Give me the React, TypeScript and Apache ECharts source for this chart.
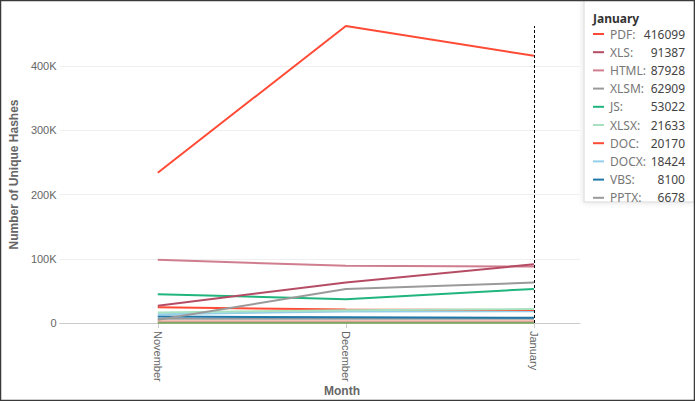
import React, { useEffect, useRef } from "react";
import * as echarts from "echarts";

const months = ["November", "December", "January"];
const yTicks = [0, 100000, 200000, 300000, 400000];

const pdf = [234000, 462500, 416099];
const xls = [27000, 63000, 91387];
const html = [98400, 89000, 87928];
const xlsm = [5000, 53000, 62909];
const js = [44800, 37000, 53022];
const xlsx = [16500, 20000, 21633];
const doc = [24500, 21000, 20170];
const docx = [13500, 18000, 18424];
const vbs = [10000, 9000, 8100];
const pptx = [6700, 6500, 6678];
const other1 = [2600, 2600, 2600];
const other2 = [500, 500, 500];

const tooltipNames = ["PDF", "XLS", "HTML", "XLSM", "JS", "XLSX", "DOC", "DOCX", "VBS", "PPTX"];
const tooltipData = [pdf, xls, html, xlsm, js, xlsx, doc, docx, vbs, pptx];
const tooltipColors = ["#ff4b36", "#b54c64", "#cf7d8f", "#9a9a9a", "#1fb57d", "#a6e2c0", "#ff4b36", "#93cfea", "#1f78a8", "#9a9a9a"];

const extraNames = ["Other 1", "Other 2"];
const extraData = [other1, other2];
const extraColors = ["#f2a9a3", "#7fa65e"];

export default function App() {
  const ref = useRef<HTMLDivElement>(null);
  useEffect(() => {
    document.body.style.margin = "0";
    const chart = echarts.init(ref.current!, null, { renderer: "svg" });
    const allNames = [...extraNames, ...tooltipNames.slice().reverse()];
    const allData = [...extraData, ...tooltipData.slice().reverse()];
    const allColors = [...extraColors, ...tooltipColors.slice().reverse()];

    const series: any[] = allNames.map((n, i) => ({
      name: n,
      type: "line",
      data: allData[i].map((v, j) => [j, v]),
      showSymbol: false,
      symbol: "none",
      lineStyle: { width: 2, color: allColors[i] },
      itemStyle: { color: allColors[i] },
    }));
    series[series.length - 1].markLine = {
      silent: true,
      symbol: "none",
      label: { show: false },
      lineStyle: { type: [3, 2], color: "#000", width: 1 },
      data: [{ xAxis: months.length - 1 }],
    };

    const rowY0 = 34;
    const rowStep = 18.2;
    const tipChildren: any[] = [
      {
        type: "rect",
        shape: { x: 584, y: -2, width: 110, height: 204 },
        style: { fill: "#fff", stroke: "#d8d8d8", lineWidth: 1, shadowBlur: 6, shadowColor: "rgba(0,0,0,0.12)" },
      },
      {
        type: "text",
        x: 593,
        y: 18,
        style: { text: months[months.length - 1], font: "bold 12px 'Noto Sans'", fill: "#333", textVerticalAlign: "middle" },
      },
    ];
    tooltipNames.forEach((n, i) => {
      const y = rowY0 + i * rowStep;
      tipChildren.push({
        type: "line",
        shape: { x1: 593, y1: y, x2: 604, y2: y },
        style: { stroke: tooltipColors[i], lineWidth: 2 },
      });
      tipChildren.push({
        type: "text",
        x: 610,
        y,
        style: { text: n + ":", font: "12px 'Noto Sans'", fill: "#777", textVerticalAlign: "middle" },
      });
      const arr = tooltipData[i];
      tipChildren.push({
        type: "text",
        x: 685,
        y,
        style: { text: String(arr[arr.length - 1]), font: "12px 'Noto Sans'", fill: "#444", textAlign: "right", textVerticalAlign: "middle" },
      });
    });

    chart.setOption({
      animation: false,
      backgroundColor: "#fff",
      grid: { left: 50, right: 115, top: 26, bottom: 78, containLabel: false },
      xAxis: {
        type: "value",
        min: -0.522,
        max: 2.245,
        axisLine: { show: true, lineStyle: { color: "#ccc", width: 1 } },
        axisTick: { show: true, customValues: [0, 1, 2], length: 5, lineStyle: { color: "#ccc" } },
        axisLabel: {
          customValues: [0, 1, 2],
          rotate: -90,
          margin: 8,
          color: "#666",
          fontFamily: "Liberation Sans",
          fontSize: 11,
          formatter: (v: number) => months[Math.round(v)] ?? "",
        },
        splitLine: { show: false },
      },
      yAxis: {
        type: "value",
        min: 0,
        max: "dataMax",
        interval: 100000,
        name: "Number of Unique Hashes",
        nameLocation: "middle",
        nameRotate: 90,
        nameGap: 32,
        nameTextStyle: { color: "#666", fontFamily: "Liberation Sans", fontSize: 12, fontWeight: "bold" },
        axisLine: { show: false },
        axisTick: { show: false },
        axisLabel: {
          margin: 3,
          color: "#666",
          fontFamily: "Liberation Sans",
          fontSize: 11,
          showMaxLabel: false,
          formatter: (v: number) => (yTicks.includes(v) ? (v === 0 ? "0" : v / 1000 + "K") : ""),
        },
        splitLine: { show: true, showMaxLine: false, lineStyle: { color: "#efefef", width: 1 } },
      },
      series,
      graphic: [
        {
          type: "text",
          x: 342,
          y: 391,
          style: { text: "Month", font: "bold 12px 'Liberation Sans'", fill: "#666", textAlign: "center", textVerticalAlign: "middle" },
        },
        { type: "group", children: tipChildren, z: 50 },
        {
          type: "rect",
          z: 100,
          shape: { x: 0.5, y: 0.5, width: 694, height: 400 },
          style: { fill: "none", stroke: "#3a3a3a", lineWidth: 1.5 },
        },
      ],
    });
    return () => chart.dispose();
  }, []);
  return <div ref={ref} style={{ position: "fixed", left: 0, top: 0, width: 695, height: 401 }} />;
}
